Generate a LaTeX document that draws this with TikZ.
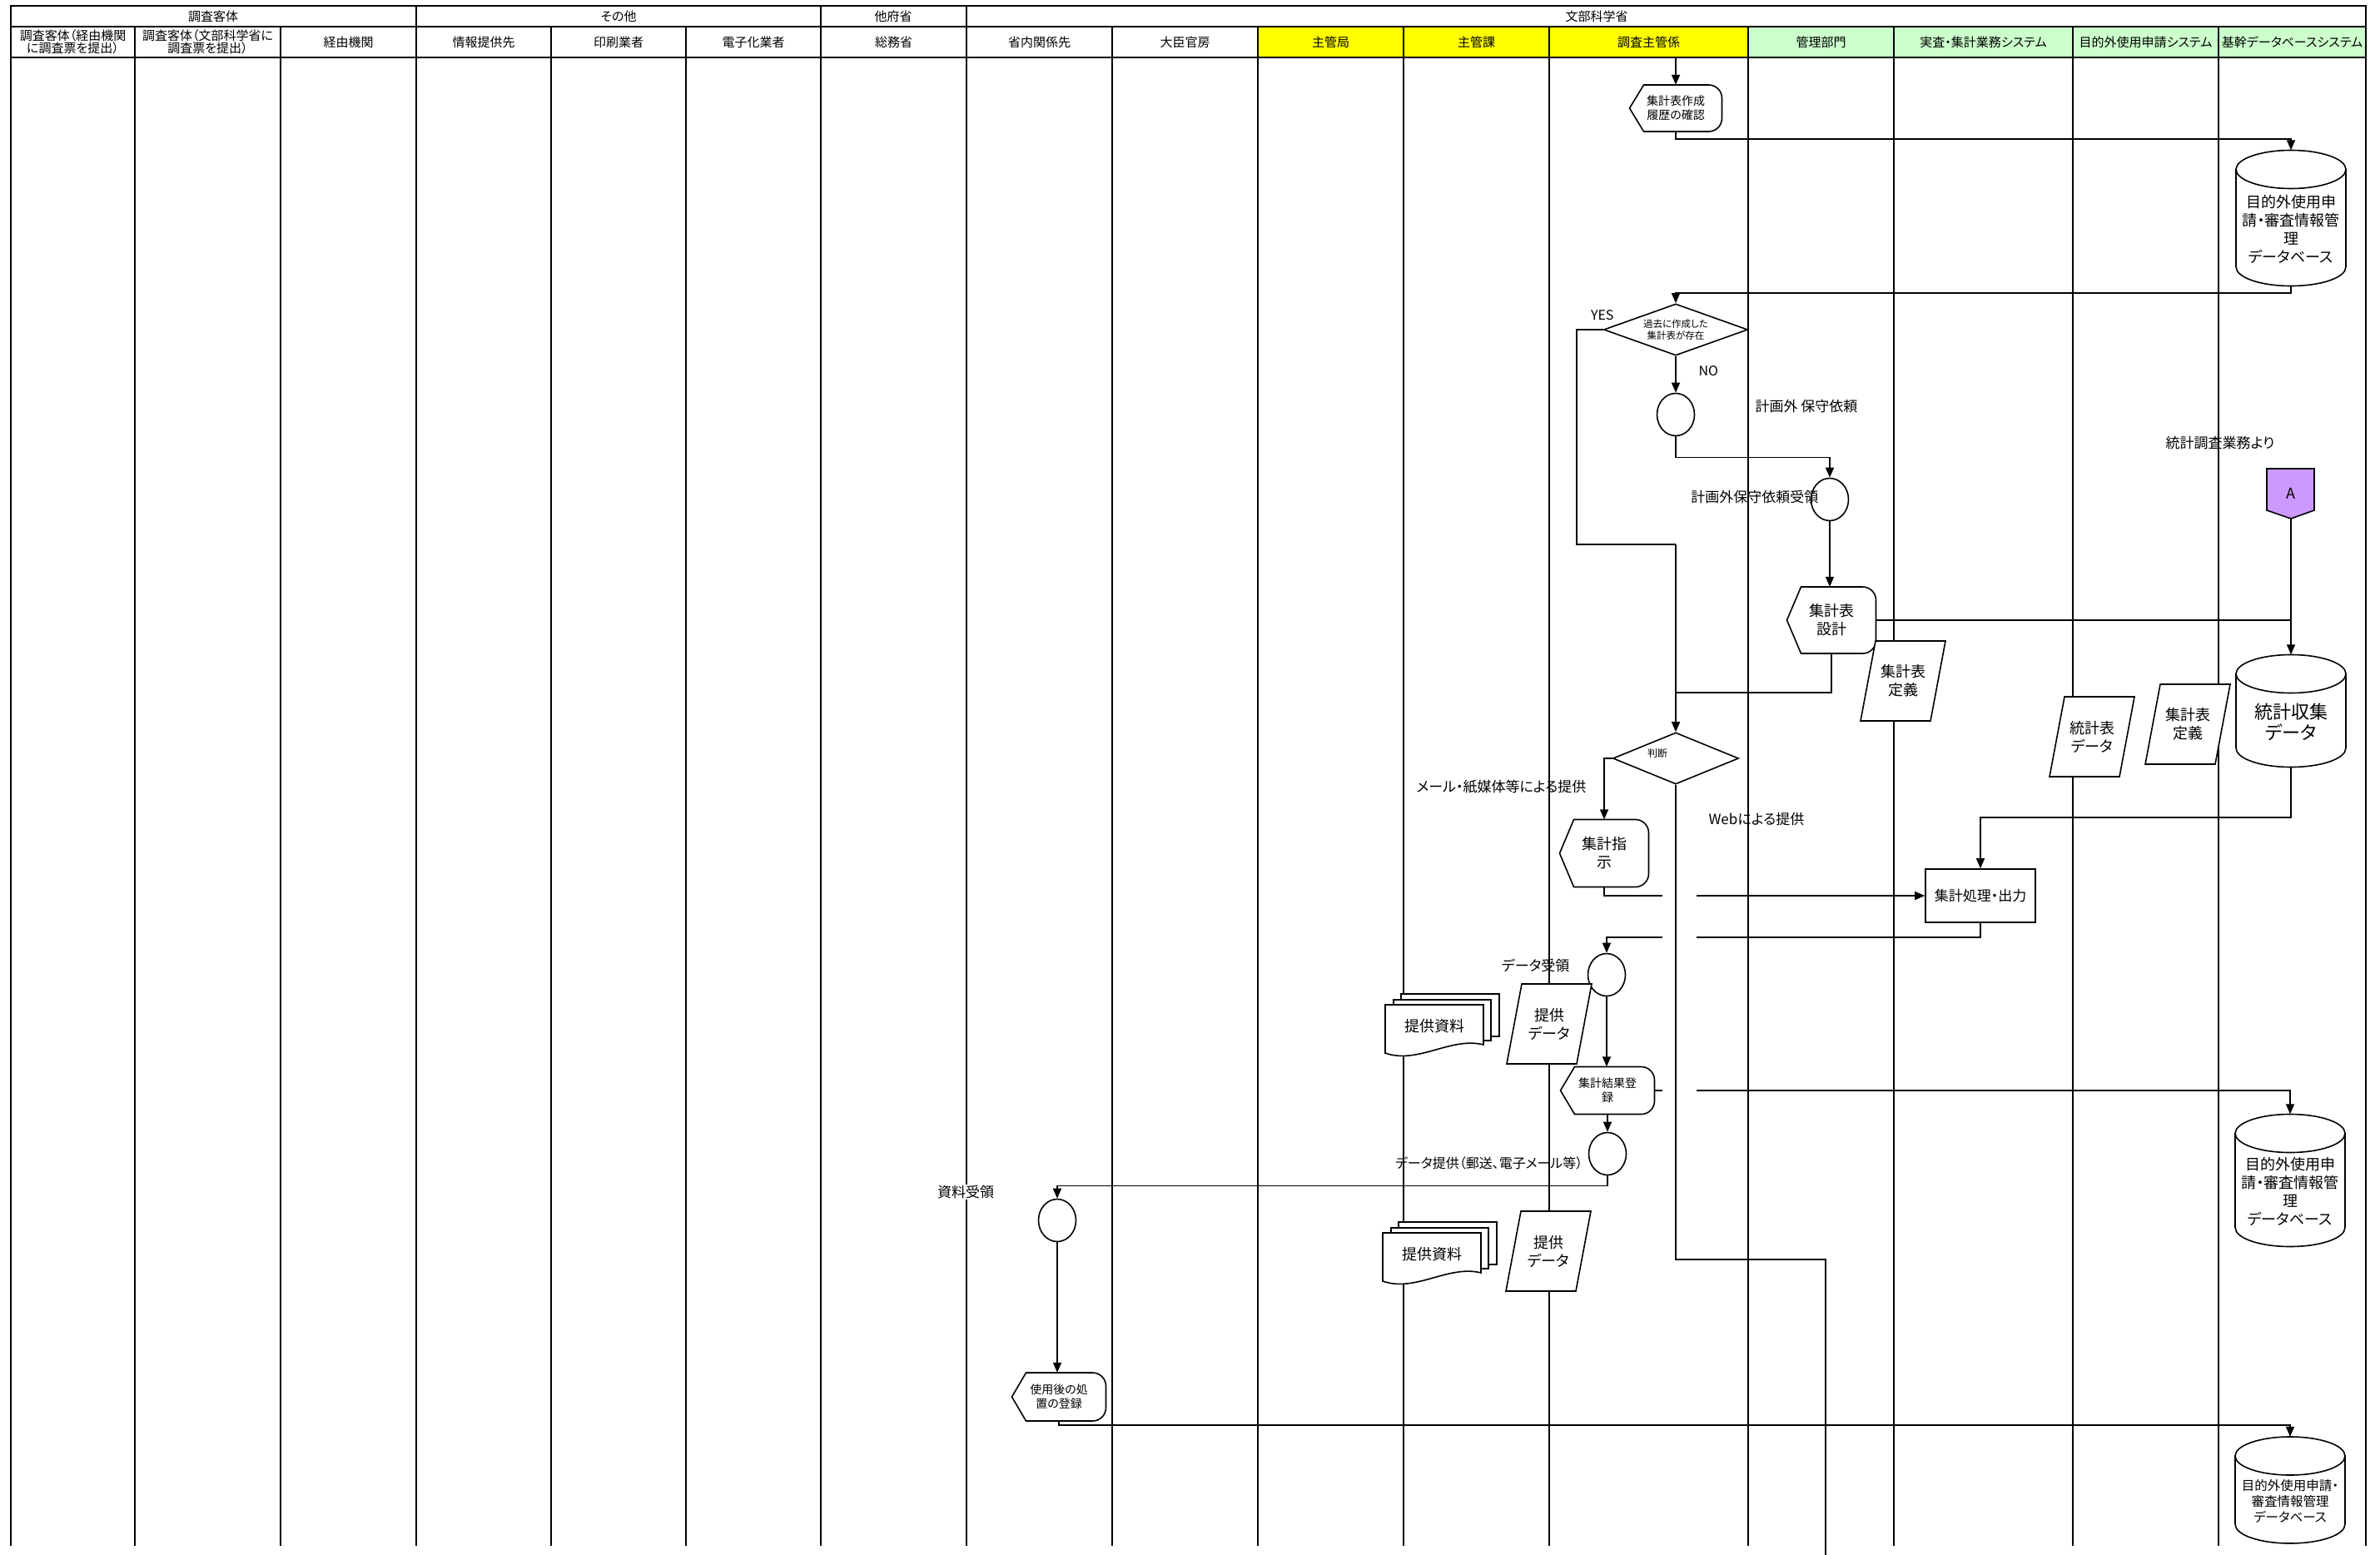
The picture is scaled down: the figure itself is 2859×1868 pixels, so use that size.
\documentclass[tikz,border=0pt]{standalone}
\usepackage{fontspec}
\setmainfont{Noto Sans CJK JP}[RawFeature=+palt]
\usepackage{tikz}
\usetikzlibrary{positioning, arrows.meta, calc, shapes.geometric}
\definecolor{hiyellow}{HTML}{FFFF00}
\definecolor{higreen}{HTML}{CCFFCC}
\definecolor{offpage}{HTML}{CC99FF}

\tikzset{
  lane/.style={line width=1.8pt},
  shapeline/.style={draw, line width=1.6pt, fill=white},
  link/.style={line width=1.6pt},
  flow/.style={line width=1.6pt, -{Triangle[length=12pt,width=10pt]}},
  f11/.style={font=\fontsize{11.5}{14}\selectfont},
  f12/.style={font=\fontsize{12}{14}\selectfont},
  f14/.style={font=\fontsize{14}{17}\selectfont},
  f15/.style={font=\fontsize{15}{15}\selectfont},
  f155/.style={font=\fontsize{15.5}{19}\selectfont},
  f16/.style={font=\fontsize{16}{19}\selectfont},
  f17/.style={font=\fontsize{17}{20}\selectfont},
  f18/.style={font=\fontsize{18}{22}\selectfont},
  f22/.style={font=\fontsize{22}{25}\selectfont},
}

% display shape: name, x, y, w, h, font, text
\newcommand{\dispnode}[7]{%
  \draw[shapeline] (#2-#4/2,#3) -- (#2-#4/2+17,#3-#5/2)
    [rounded corners=16pt] -- (#2+#4/2,#3-#5/2) -- (#2+#4/2,#3+#5/2)
    [sharp corners] -- (#2-#4/2+17,#3+#5/2) -- cycle;
  \node[#6, align=center, inner sep=0pt, minimum width=#4, minimum height=#5] (#1) at (#2,#3) {#7};}

% stored data (cylinder): name, x, y, w, h, font, text
\newcommand{\dbnode}[7]{%
  \draw[shapeline] (#2-#4/2,#3-#5/2+23) -- (#2-#4/2,#3+#5/2-23)
    .. controls (#2-#4/2,#3+#5/2-10) and (#2-0.552*#4/2,#3+#5/2) .. (#2,#3+#5/2)
    .. controls (#2+0.552*#4/2,#3+#5/2) and (#2+#4/2,#3+#5/2-10) .. (#2+#4/2,#3+#5/2-23)
    -- (#2+#4/2,#3-#5/2+23) -- cycle;
  \draw[shapeline] (#2,#3-#5/2+23) ellipse [x radius=#4/2, y radius=23];
  \node[inner sep=0pt, minimum width=#4, minimum height=#5] (#1) at (#2,#3) {};
  \node[#6, align=center, inner sep=0pt] (#1-t) at (#2,#3+13) {#7};}

% data (parallelogram): name, x, y, text
\newcommand{\datanode}[4]{%
  \draw[shapeline] (#2-51,#3+48) -- (#2-33,#3-48) -- (#2+51,#3-48) -- (#2+33,#3+48) -- cycle;
  \node[f18, align=center, inner sep=0pt, minimum width=84, minimum height=96] (#1) at (#2,#3) {#4};}

% multiple documents: name, x, y, text
\newcommand{\docsnode}[4]{%
  \draw[shapeline] (#2-40,#3-43) rectangle (#2+78,#3+8);
  \draw[shapeline] (#2-49,#3-36) rectangle (#2+68,#3+13);
  \draw[shapeline] (#2-59,#3-30) -- (#2+59,#3-30) -- (#2+59,#3+18)
    .. controls (#2+20,#3+8) and (#2-20,#3+42) .. (#2-59,#3+28) -- cycle;
  \node[f18, inner sep=0pt, minimum width=118, minimum height=58] (#1) at (#2,#3-4) {#4};}

\begin{document}
\begin{tikzpicture}[x=1pt, y=-1pt]
\useasboundingbox (0,0) rectangle (2859,1868);

% header
\fill[hiyellow] (1511,32) rectangle (2100,69);
\fill[higreen] (2100,32) rectangle (2842,69);
\draw[lane] (13,7) rectangle (2842,69);
\draw[lane] (13,32) -- (2842,32);
\foreach \x in {500,986,1161}
  \draw[lane] (\x,7) -- (\x,32);
\foreach \x in {13,162,337,500,662,824,986,1161,1336,1511,1686,1861,2100,2275,2490,2665,2842}
  \draw[lane] (\x,32) -- (\x,1857);

\node[f15] (g-subject) at (256,19.5) {調査客体};
\node[f15] (g-other) at (743,19.5) {その他};
\node[f15] (g-ministry) at (1073,19.5) {他府省};
\node[f15] (g-mext) at (1918,19.5) {文部科学省};

\node[f15, align=center] (l-sub1) at (87.5,50.5) {調査客体（経由機関\\に調査票を提出）};
\node[f15, align=center] (l-sub2) at (249.5,50.5) {調査客体（文部科学省に\\調査票を提出）};
\node[f15] (l-via) at (418.5,50.5) {経由機関};
\node[f15] (l-info) at (581,50.5) {情報提供先};
\node[f15] (l-print) at (743,50.5) {印刷業者};
\node[f15] (l-digit) at (905,50.5) {電子化業者};
\node[f15] (l-mic) at (1073.5,50.5) {総務省};
\node[f15] (l-inner) at (1248.5,50.5) {省内関係先};
\node[f15] (l-sec) at (1423.5,50.5) {大臣官房};
\node[f15] (l-bureau) at (1598.5,50.5) {主管局};
\node[f15] (l-div) at (1773.5,50.5) {主管課};
\node[f15] (l-chief) at (1980.5,50.5) {調査主管係};
\node[f15] (l-admin) at (2187.5,50.5) {管理部門};
\node[f15] (l-sys) at (2382.5,50.5) {実査・集計業務システム};
\node[f15] (l-app) at (2577.5,50.5) {目的外使用申請システム};
\node[f15] (l-db) at (2753.5,50.5) {基幹データベースシステム};

% shapes
\dispnode{hist}{2013}{130}{111}{56}{f14}{集計表作成\\履歴の確認}
\dbnode{db1}{2752}{262}{132}{163}{f18}{目的外使用申\\請・審査情報管\\理\\データベース}
\node[diamond, shapeline, f11, align=center, aspect=2.8, inner sep=0pt,
  minimum width=173, minimum height=62] (dec1) at (2013,396) {過去に作成した\\集計表が存在};
\node[ellipse, shapeline, inner sep=0pt, minimum width=45, minimum height=51] (evt1) at (2013,498) {};
\node[ellipse, shapeline, inner sep=0pt, minimum width=45, minimum height=51] (evt2) at (2198,600) {};
\dispnode{design}{2200}{745}{107}{80}{f18}{集計表\\設計}
\draw[shapeline, fill=offpage] (2723,563) -- (2780,563) -- (2780,613) -- (2752,623) -- (2723,613) -- cycle;
\node[f18, inner sep=0pt, minimum width=57, minimum height=60] (conA) at (2752,593) {A};
\dbnode{db2}{2752}{854}{132}{135}{f22}{統計収集\\データ}
\datanode{def1}{2286}{818}{集計表\\定義}
\datanode{stat}{2513}{885}{統計表\\データ}
\datanode{def2}{2628}{870}{集計表\\定義}
\node[diamond, shapeline, inner sep=0pt, minimum width=151, minimum height=62] (judge) at (2013,911) {};
\node[f12] (judge-t) at (1991,905) {判断};
\dispnode{instr}{1927}{1025}{107}{81}{f18}{集計指\\示}
\node[shapeline, f17, minimum width=132, minimum height=64, inner sep=0pt] (proc) at (2379,1076) {集計処理・出力};
\node[ellipse, shapeline, inner sep=0pt, minimum width=45, minimum height=51] (evt3) at (1930,1171) {};
\docsnode{docs1}{1723}{1237}{提供資料}
\datanode{data1}{1861}{1230}{提供\\データ}
\dispnode{reg}{1931}{1310}{113}{57}{f14}{集計結果登\\録}
\dbnode{db3}{2751}{1418}{132}{159}{f18}{目的外使用申\\請・審査情報管\\理\\データベース}
\node[ellipse, shapeline, inner sep=0pt, minimum width=45, minimum height=51] (evt4) at (1931,1386) {};
\node[ellipse, shapeline, inner sep=0pt, minimum width=45, minimum height=51] (evt5) at (1270,1466) {};
\docsnode{docs2}{1720}{1511}{提供資料}
\datanode{data2}{1860}{1503}{提供\\データ}
\dispnode{after}{1272}{1678}{113}{58}{f14}{使用後の処\\置の登録}
\dbnode{db4}{2751}{1790}{132}{128}{f155}{目的外使用申請・\\審査情報管理\\データベース}

% labels
\node[f16, anchor=east] (yes) at (1942,379) {YES};
\node[f16, anchor=west] (no) at (2037,446) {NO};
\node[f17, anchor=west] (req) at (2105,488) {計画外 保守依頼};
\node[f17, anchor=east] (reqrcv) at (2188,597) {計画外保守依頼受領};
\node[f17] (from) at (2667,532) {統計調査業務より};
\node[f17, anchor=east] (mail) at (1909,945) {メール・紙媒体等による提供};
\node[f17, anchor=west] (web) at (2049,984) {Webによる提供};
\node[f17, anchor=east] (rcv) at (1889,1160) {データ受領};
\node[f16, anchor=east] (send) at (1905,1397) {データ提供（郵送、電子メール等）};
\node[f17, fill=white, inner sep=1pt] (docrcv) at (1160,1432) {資料受領};

% connectors
\coordinate (start) at (2013,69);
\coordinate (yesturn) at (2013,654);
\coordinate (designturn) at (2013,832);
\coordinate (exit) at (2193,1868);
\coordinate (jmpL1) at (1997,1076);
\coordinate (jmpR1) at (2038,1076);
\coordinate (jmpL2) at (1997,1126);
\coordinate (jmpR2) at (2038,1126);
\coordinate (jmpL3) at (1997,1310);
\coordinate (jmpR3) at (2038,1310);

\draw[flow] (start) -- (hist.north);
\draw[flow] (hist.south) -- ++(0,9) -| (db1.north);
\draw[flow] (db1.south) -- ++(0,8) -| (dec1.north);
\draw[link] (dec1.west) -- ++(-32,0) |- (yesturn);
\draw[flow] (dec1.south) -- (evt1.north);
\draw[flow] (evt1.south) -- ++(0,25) -| (evt2.north);
\draw[flow] (evt2.south) -- (evt2.south |- design.north);
\draw[link] (conA.south) -- (conA.south |- design.east);
\draw[flow] (design.east) -| (db2.north);
\draw[link] (design.south) |- (designturn);
\draw[flow] (yesturn) -- (judge.north);
\draw[flow] (judge.west) -| (instr.north);
\draw[link] (judge.south) |- ++(180,570) -- (exit);
\draw[link] (instr.south) |- (jmpL1);
\draw[flow] (jmpR1) -- (proc.west);
\draw[flow] (db2.south) -- ++(0,60) -| (proc.north);
\draw[link] (proc.south) |- (jmpR2);
\draw[flow] (jmpL2) -| (evt3.north);
\draw[flow] (evt3.south) -- (evt3.south |- reg.north);
\draw[link] (reg.east) -- (jmpL3);
\draw[flow] (jmpR3) -| (db3.north);
\draw[flow] (reg.south) -- (evt4.north);
\draw[flow] (evt4.south) -- ++(0,12) -| (evt5.north);
\draw[flow] (evt5.south) -- (evt5.south |- after.north);
\draw[flow] (after.south) -- ++(0,5) -| (db4.north);
\end{tikzpicture}
\end{document}
